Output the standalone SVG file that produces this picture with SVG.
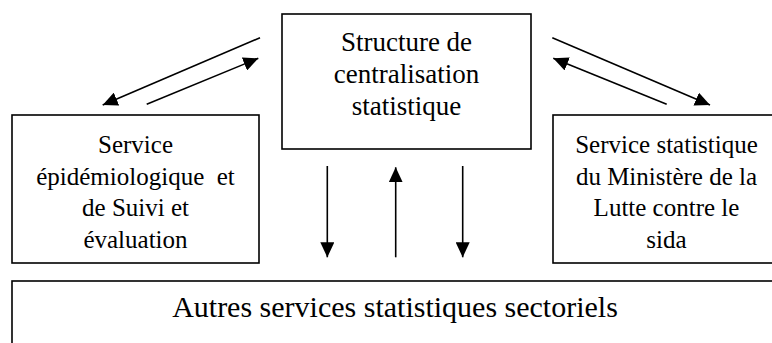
<svg xmlns="http://www.w3.org/2000/svg" width="772" height="343" viewBox="0 0 772 343">
<style>
.box{fill:#fff;stroke:#000;stroke-width:1.6}
.t{font-family:"Liberation Serif","Times New Roman",serif;fill:#000;text-anchor:middle}
.c{stroke:#000;stroke-width:1.6;fill:none;marker-end:url(#ah)}
</style>
<defs>
<marker id="ah" markerUnits="userSpaceOnUse" markerWidth="15" markerHeight="14" viewBox="0 0 15 14" refX="15" refY="7" orient="auto">
<path d="M0,0 L15,7 L0,14 z" fill="#000"/>
</marker>
</defs>
<rect width="772" height="343" fill="#fff"/>
<g id="central">
<rect class="box" x="282" y="14" width="249" height="135"/>
<text class="t" font-size="27" x="406.5" y="51">Structure de</text>
<text class="t" font-size="27" x="406.5" y="83">centralisation</text>
<text class="t" font-size="27" x="406.5" y="115">statistique</text>
</g>
<g id="epidemio">
<rect class="box" x="12" y="115" width="247" height="148"/>
<text class="t" font-size="25" x="135.5" y="153">Service</text>
<text class="t" font-size="25" x="135.5" y="185" xml:space="preserve">épidémiologique  et</text>
<text class="t" font-size="25" x="135.5" y="216">de Suivi et</text>
<text class="t" font-size="25" x="135.5" y="248">évaluation</text>
</g>
<g id="sida">
<rect class="box" x="553" y="115" width="227" height="148"/>
<text class="t" font-size="25" x="666.5" y="153">Service statistique</text>
<text class="t" font-size="25" x="666.5" y="185">du Ministère de la</text>
<text class="t" font-size="25" x="666.5" y="216">Lutte contre le</text>
<text class="t" font-size="25" x="666.5" y="248">sida</text>
</g>
<g id="autres">
<rect class="box" x="12" y="281" width="800" height="100"/>
<text class="t" font-size="30" x="395" y="317">Autres services statistiques sectoriels</text>
</g>
<g id="connectors">
<line class="c" x1="260" y1="37.7" x2="102.7" y2="105"/>
<line class="c" x1="146.7" y1="104.3" x2="258.3" y2="58.3"/>
<line class="c" x1="552.3" y1="37.7" x2="710" y2="105"/>
<line class="c" x1="666.7" y1="104.3" x2="553.3" y2="58.3"/>
<line class="c" x1="327.3" y1="166" x2="327.3" y2="257.3"/>
<line class="c" x1="395.7" y1="257.3" x2="395.7" y2="167.3"/>
<line class="c" x1="462.7" y1="166" x2="462.7" y2="257.3"/>
</g>
</svg>
